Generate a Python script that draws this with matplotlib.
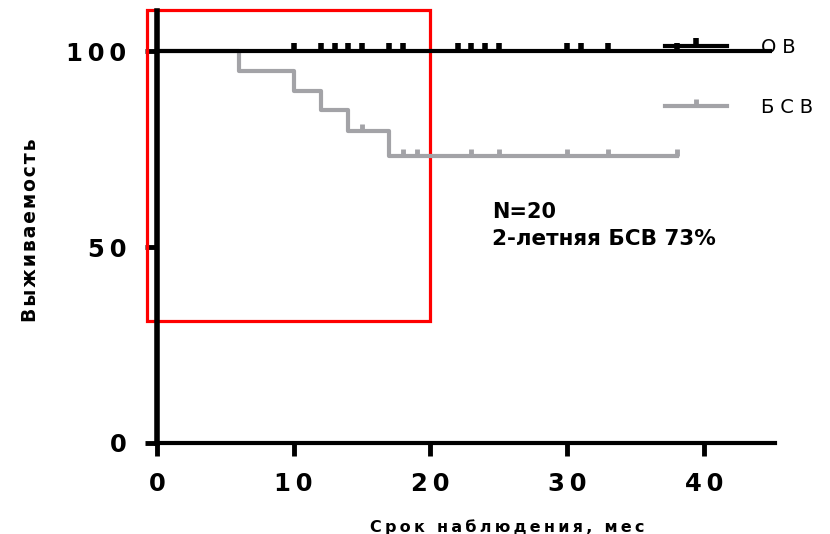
import matplotlib
matplotlib.use("Agg")
import matplotlib.pyplot as plt
from matplotlib.path import Path
from matplotlib.lines import Line2D
from matplotlib.patches import Rectangle

plt.rcParams["font.family"] = ["DejaVu Sans"]

# overall survival (ОВ): nobody died, censored follow-up times
ov_end = 45
ov_level = 100
ov_censor = [10, 12, 13, 14, 15, 17, 18, 22, 23, 24, 25, 30, 31, 33, 38]

# relapse-free survival (БСВ): event times and survival after each event
bsv_times = [0, 6, 10, 12, 14, 17]
bsv_surv = [100, 95, 90, 85, 79.7, 73.3]
bsv_end = 38
bsv_censor = [15, 18, 19, 23, 25, 30, 33, 38]

x_ticks = [0, 10, 20, 30, 40]
y_ticks = [0, 50, 100]

labels = ["ОВ", "БСВ"]
x_label = "Срок наблюдения, мес"
y_label = "Выживаемость"
note_n = "N=20"
note_rfs = "2-летняя БСВ 73%"

BLACK = "black"
GREY = "#a3a3a7"
SP = "\u2009"  # thin space used as letter spacing
HSP = "\u200a"  # hair space


def spaced(s, sep=SP):
    return sep.join(s)


def level_at(t, times, surv):
    val = surv[0]
    for ti, si in zip(times, surv):
        if t >= ti:
            val = si
    return val


# censor mark: short stroke pointing up from the curve
tick_up = Path([(0, 0), (0, 1)])

fig = plt.figure(figsize=(8.3, 5.34), dpi=100)
ax = fig.add_axes([157 / 830, 1 - 443 / 534, 618 / 830, 432 / 534])

# БСВ curve
ax.step(bsv_times + [bsv_end], bsv_surv + [bsv_surv[-1]], where="post",
        color=GREY, lw=3, zorder=3)
ax.plot(bsv_censor, [level_at(t, bsv_times, bsv_surv) for t in bsv_censor],
        ls="none", marker=tick_up, ms=10, mew=3.5, color=GREY, zorder=3)

# ОВ curve (on top)
ax.plot([0, ov_end], [ov_level, ov_level], color=BLACK, lw=3, solid_capstyle="butt", zorder=4)
ax.plot(ov_censor, [ov_level] * len(ov_censor), ls="none", marker=tick_up,
        ms=11, mew=4, color=BLACK, zorder=4)

ax.set_xlim(0, 45.2)
ax.set_ylim(0, 110.3)

for side in ["top", "right"]:
    ax.spines[side].set_visible(False)
ax.spines["left"].set_linewidth(4)
ax.spines["bottom"].set_linewidth(3)
ax.spines["left"].set_zorder(5)
ax.spines["bottom"].set_zorder(5)

ax.set_xticks(x_ticks)
ax.set_xticklabels([spaced(str(t)) for t in x_ticks])
ax.set_yticks(y_ticks)
ax.set_yticklabels([spaced(str(t)) for t in y_ticks])
ax.tick_params(axis="both", direction="out", length=9, width=3.5,
               labelsize=17.5)
ax.tick_params(axis="x", pad=12)
ax.tick_params(axis="y", pad=13)
for lab in ax.get_xticklabels() + ax.get_yticklabels():
    lab.set_fontweight("bold")

# axis titles
fig.text(507 / 830, 1 - 527 / 534, spaced(x_label), ha="center", va="center",
         fontsize=11.5, fontweight="bold")
fig.text(31 / 830, 1 - 230 / 534, spaced(y_label, HSP), ha="center", va="center",
         rotation=90, fontsize=13.5, fontweight="bold")

# annotation
ax.text(24.5, 57.5, note_n, fontsize=15, fontweight="bold", va="baseline")
ax.text(24.5, 50.6, note_rfs, fontsize=15.5, fontweight="bold", va="baseline")

# legend
handles = [
    Line2D([], [], color=BLACK, lw=3, marker=tick_up, ms=11, mew=4),
    Line2D([], [], color=GREY, lw=3, marker=tick_up, ms=10, mew=3.5),
]
ax.legend(handles, [spaced(l, SP + HSP) for l in labels], loc="upper left",
          bbox_to_anchor=(665 / 830, 1 - 38 / 534), bbox_transform=fig.transFigure,
          frameon=False, fontsize=14, handlelength=3.2, handletextpad=1.75,
          labelspacing=2.1, borderpad=0, borderaxespad=0, numpoints=1)

# red highlight box
ax.add_patch(Rectangle((-0.7, 31.2), 20.7, 79.3, fill=False, edgecolor="red",
                       lw=2.3, clip_on=False, zorder=2))

plt.savefig("out.png", dpi=100)
